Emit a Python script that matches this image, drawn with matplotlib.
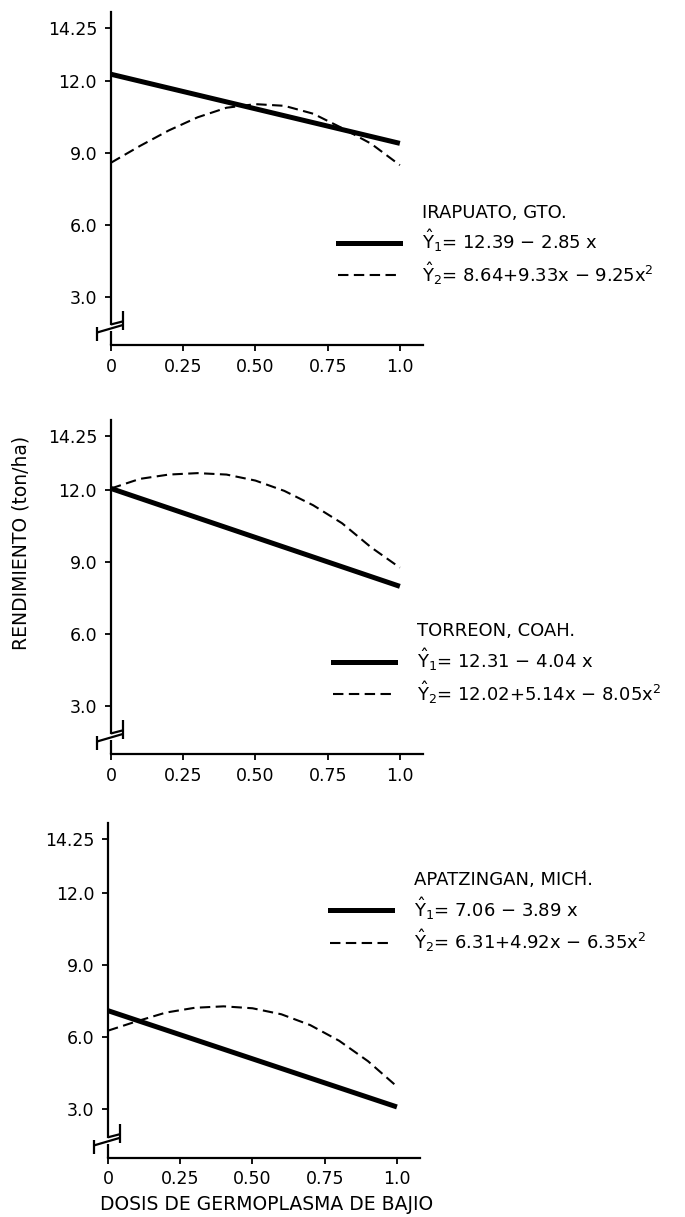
import matplotlib
matplotlib.use('Agg')
import matplotlib.pyplot as plt
from matplotlib.lines import Line2D

plt.rcParams['font.family'] = ['DejaVu Sans']
plt.rcParams['mathtext.fontset'] = 'dejavusans'

# dosis de germoplasma (x) y rendimientos
x_lin = [0.0, 1.0]
x_cuad = [0.0, 0.1, 0.2, 0.3, 0.4, 0.5, 0.6, 0.7, 0.8, 0.9, 1.0]

irapuato_y1 = [12.30, 9.41]
irapuato_y2 = [8.6, 9.3, 9.95, 10.5, 10.9, 11.05, 10.98, 10.65, 10.05, 9.4, 8.5]
torreon_y1 = [12.05, 7.97]
torreon_y2 = [12.05, 12.45, 12.63, 12.69, 12.63, 12.38, 11.95, 11.35, 10.6, 9.6, 8.75]
apatz_y1 = [7.10, 3.10]
apatz_y2 = [6.27, 6.66, 7.02, 7.22, 7.28, 7.2, 6.95, 6.5, 5.85, 5.0, 3.95]

sitios = ['IRAPUATO, GTO.', 'TORREON, COAH.', 'APATZINGAN, MICH\u0301.']
ec1 = [r'$\hat{\mathrm{Y}}_1$= 12.39 $-$ 2.85 x',
       r'$\hat{\mathrm{Y}}_1$= 12.31 $-$ 4.04 x',
       r'$\hat{\mathrm{Y}}_1$= 7.06 $-$ 3.89 x']
ec2 = [r'$\hat{\mathrm{Y}}_2$= 8.64+9.33x $-$ 9.25x$^2$',
       r'$\hat{\mathrm{Y}}_2$= 12.02+5.14x $-$ 8.05x$^2$',
       r'$\hat{\mathrm{Y}}_2$= 6.31+4.92x $-$ 6.35x$^2$']

yticks = [3.0, 6.0, 9.0, 12.0, 14.25]
ylabels = ['3.0', '6.0', '9.0', '12.0', '14.25']
xticks = [0, 0.25, 0.5, 0.75, 1.0]
xlabels = ['0', '0.25', '0.50', '0.75', '1.0']

lineal = [irapuato_y1, torreon_y1, apatz_y1]
cuad = [irapuato_y2, torreon_y2, apatz_y2]

rects = [[0.162, 0.7165, 0.4555, 0.2736],
         [0.162, 0.3804, 0.4555, 0.2744],
         [0.1577, 0.0485, 0.4555, 0.2753]]
leg_pos = [(0.728, 0.425), (0.712, 0.394), (0.712, 0.856)]

fig = plt.figure(figsize=(6.85, 12.17), dpi=100)

for i in range(3):
    ax = fig.add_axes(rects[i])
    ax.plot(x_lin, lineal[i], color='black', lw=3.6, solid_capstyle='butt')
    ax.plot(x_cuad, cuad[i], color='black', lw=1.5, dashes=(5, 2.6))
    ax.set_xlim(0, 1.08)
    ax.set_ylim(0.98, 14.9)
    for s in ['top', 'right']:
        ax.spines[s].set_visible(False)
    ax.spines['left'].set_linewidth(1.6)
    ax.spines['bottom'].set_linewidth(1.6)
    ax.spines['left'].set_bounds(1.84, 14.9)
    ax.set_yticks(yticks)
    ax.set_yticklabels(ylabels)
    ax.set_xticks(xticks)
    ax.set_xticklabels(xlabels)
    ax.tick_params(axis='y', direction='out', length=4, width=1.3, pad=6, labelsize=12.5)
    ax.tick_params(axis='x', direction='out', length=4, width=1.3, pad=5, labelsize=12.5)

    # corte del eje
    kw = dict(color='black', lw=1.6, clip_on=False, solid_capstyle='butt')
    ax.plot([0, 0], [0.98, 1.58], **kw)
    ax.plot([0, 0.042], [1.84, 1.97], **kw)
    ax.plot([0.042, 0.042], [1.62, 2.40], **kw)
    ax.plot([-0.049, 0.042], [1.50, 1.82], **kw)
    ax.plot([-0.049, -0.049], [1.15, 1.72], **kw)

    handles = [Line2D([], [], color='none'),
               Line2D([], [], color='black', lw=3.6),
               Line2D([], [], color='black', lw=1.5, dashes=(5, 2.6))]
    ax.legend(handles, [sitios[i], ec1[i], ec2[i]], loc='upper left',
              bbox_to_anchor=leg_pos[i], frameon=False, fontsize=13,
              handlelength=3.43, handletextpad=1.2, labelspacing=0.32,
              borderpad=0, borderaxespad=0)

fig.text(21 / 685, 1 - 543 / 1217, 'RENDIMIENTO (ton/ha)', rotation=90,
         ha='center', va='center', fontsize=13.5)
fig.text(267 / 685, 1 - 1205 / 1217, 'DOSIS DE GERMOPLASMA DE BAJIO',
         ha='center', va='center', fontsize=13.5)

fig.savefig('out.png', dpi=100)
